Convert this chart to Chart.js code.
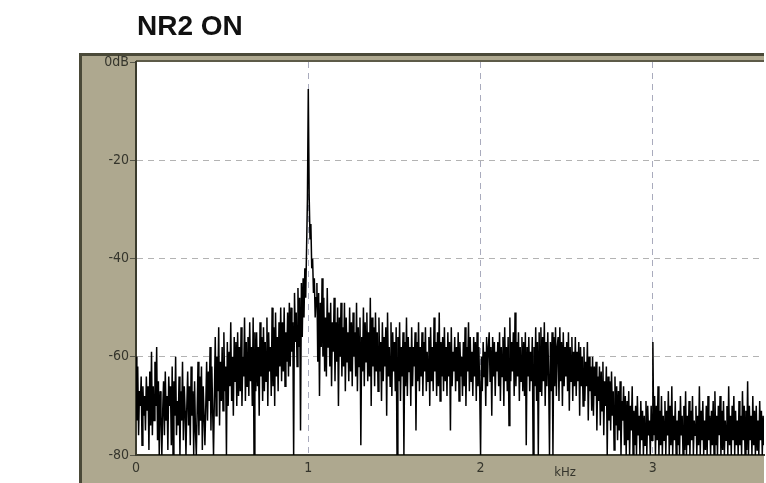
<!DOCTYPE html>
<html>
<head>
<meta charset="utf-8">
<script src="https://cdn.jsdelivr.net/npm/chart.js@4"></script>
<style>
  html, body { margin: 0; padding: 0; background: #fff; }
  #wrap { position: relative; width: 766px; height: 483px; overflow: hidden; }
  canvas { position: absolute; left: 0; top: 0; }
  #title {
    position: absolute; left: 137px; top: 10px;
    font: bold 28px/32px "Liberation Sans", Arial, sans-serif;
    color: #111; white-space: nowrap;
  }
</style>
</head>
<body>
<div id="wrap">
  <canvas id="spectrum" width="766" height="483"></canvas>
  <div id="title">NR2 ON</div>
</div>
<script>
// Spectrum analyser trace: level in dB, one value every 5 Hz starting at 0 Hz
// (each row below covers 50 Hz).
const freqStepKHz = 0.005;
const levelDb = [
  -60,-73,-62,-76,-67,-70,-64,-78,-66,-72,   // 0.00 kHz
  -68,-75,-64,-71,-66,-79,-63,-74,-59,-76,
  -66,-73,-61,-70,-58,-77,-65,-80,-67,-72,
  -80,-71,-65,-76,-63,-73,-68,-79,-64,-70,
  -66,-78,-62,-80,-65,-72,-60,-76,-69,-74,   // 0.20 kHz
  -64,-80,-67,-73,-61,-77,-66,-71,-80,-70,
  -63,-74,-66,-78,-62,-72,-67,-80,-65,-75,
  -80,-71,-61,-76,-64,-73,-62,-79,-66,-72,
  -78,-70,-61,-73,-63,-69,-58,-75,-62,-71,   // 0.40 kHz
  -80,-68,-56,-72,-60,-67,-54,-74,-61,-69,
  -58,-71,-55,-67,-62,-80,-57,-70,-59,-66,
  -53,-69,-60,-72,-56,-65,-57,-70,-55,-68,
  -58,-67,-54,-70,-60,-64,-52,-69,-57,-66,   // 0.60 kHz
  -56,-68,-53,-65,-58,-70,-52,-80,-55,-67,
  -55,-66,-58,-72,-53,-64,-56,-69,-54,-67,
  -57,-65,-52,-70,-55,-63,-58,-68,-50,-66,
  -54,-70,-51,-64,-56,-67,-53,-62,-50,-65,   // 0.80 kHz
  -53,-63,-50,-66,-55,-61,-51,-64,-49,-62,
  -50,-59,-53,-80,-47,-57,-51,-62,-46,-58,
  -48,-75,-45,-56,-44,-52,-42,-48,-38,-28,
  -5.5,-27,-36,-33,-42,-40,-47,-44,-52,-48,  // 1.00 kHz tone
  -45,-61,-47,-68,-49,-58,-44,-60,-48,-63,
  -52,-64,-46,-58,-51,-62,-49,-66,-53,-59,
  -48,-65,-53,-61,-50,-70,-52,-60,-49,-64,
  -54,-62,-49,-67,-52,-61,-55,-65,-50,-63,   // 1.20 kHz
  -53,-66,-51,-60,-55,-64,-49,-67,-54,-62,
  -52,-78,-56,-63,-50,-66,-53,-61,-51,-65,
  -55,-64,-48,-70,-52,-62,-54,-66,-51,-63,
  -55,-67,-52,-63,-57,-69,-53,-65,-56,-62,   // 1.40 kHz
  -54,-72,-51,-64,-58,-66,-53,-68,-55,-63,
  -57,-67,-54,-80,-56,-65,-53,-69,-58,-64,
  -55,-80,-57,-66,-52,-68,-56,-63,-58,-70,
  -54,-66,-58,-62,-55,-75,-57,-65,-53,-67,   // 1.60 kHz
  -58,-64,-55,-68,-57,-63,-54,-67,-59,-65,
  -56,-70,-54,-65,-58,-67,-52,-63,-57,-68,
  -55,-66,-51,-69,-57,-64,-56,-67,-54,-65,
  -58,-68,-55,-64,-57,-75,-54,-66,-59,-63,   // 1.80 kHz
  -56,-67,-58,-65,-55,-69,-57,-64,-60,-68,
  -57,-66,-54,-70,-58,-63,-53,-67,-56,-65,
  -59,-68,-56,-64,-57,-69,-55,-66,-58,-67,
  -80,-60,-67,-57,-64,-59,-70,-56,-66,-58,   // 2.00 kHz
  -55,-65,-58,-72,-56,-64,-57,-68,-59,-63,
  -57,-66,-55,-69,-58,-64,-56,-70,-54,-65,
  -58,-67,-56,-74,-52,-65,-57,-63,-55,-68,
  -51,-66,-57,-64,-55,-69,-58,-65,-56,-67,   // 2.20 kHz
  -57,-68,-55,-78,-58,-64,-56,-67,-59,-65,
  -56,-80,-58,-66,-54,-69,-57,-80,-55,-67,
  -54,-68,-56,-65,-53,-70,-57,-66,-55,-64,
  -80,-57,-67,-55,-80,-56,-66,-54,-68,-58,   // 2.40 kHz
  -56,-69,-54,-65,-57,-70,-55,-66,-58,-64,
  -57,-67,-55,-71,-58,-65,-56,-69,-59,-66,
  -56,-68,-59,-65,-57,-72,-58,-66,-60,-70,
  -58,-69,-61,-66,-57,-73,-60,-67,-62,-71,   // 2.60 kHz
  -60,-72,-62,-68,-61,-75,-64,-69,-62,-74,
  -63,-71,-61,-76,-65,-70,-62,-80,-64,-73,
  -65,-75,-63,-72,-67,-79,-64,-74,-66,-77,
  -67,-75,-65,-80,-69,-73,-66,-78,-68,-80,   // 2.80 kHz
  -69,-77,-67,-80,-70,-75,-66,-80,-71,-78,
  -70,-80,-68,-76,-72,-80,-69,-77,-71,-80,
  -72,-78,-69,-80,-70,-76,-73,-80,-70,-77,
  -57,-76,-68,-80,-70,-77,-66,-80,-71,-78,   // 3.00 kHz tone
  -68,-80,-72,-77,-69,-80,-71,-76,-67,-80,
  -70,-78,-66,-80,-72,-77,-69,-80,-73,-78,
  -71,-80,-68,-76,-72,-80,-70,-79,-67,-80,
  -72,-78,-69,-80,-71,-77,-68,-80,-73,-76,   // 3.20 kHz
  -70,-80,-72,-78,-66,-80,-71,-77,-69,-80,
  -73,-79,-70,-80,-68,-77,-72,-80,-71,-78,
  -69,-80,-67,-78,-72,-80,-70,-76,-68,-80,
  -71,-79,-69,-80,-73,-77,-70,-80,-66,-78,   // 3.40 kHz
  -72,-80,-70,-77,-68,-80,-71,-78,-73,-80,
  -69,-78,-72,-80,-67,-77,-70,-80,-71,-79,
  -65,-80,-70,-77,-72,-80,-68,-78,-71,-80,
  -70,-79,-73,-80,-69,-77,-71,-80,-72,-78    // 3.60 kHz
];

const xTicksKHz = [0, 1, 2, 3];
const yTicksDb = [0, -20, -40, -60, -80];
const yTickLabels = ['0dB', '-20', '-40', '-60', '-80'];
const xAxisUnit = 'kHz';

const tracePoints = levelDb.map((v, i) => ({ x: i * freqStepKHz, y: v }));

const FRAME = '#aea88f';
const FRAME_DARK = '#4a4938';
const AXIS = '#3b3b2d';
const TEXT = '#35352c';
const FONT_FAMILY = '"DejaVu Sans Condensed", "Liberation Sans Narrow", sans-serif';
const TICK_FONT = { family: FONT_FAMILY, size: 14 };

// Instrument-style bezel behind the plot window
const bezel = {
  id: 'bezel',
  beforeDraw(chart) {
    const { ctx, chartArea: a } = chart;
    ctx.save();
    ctx.fillStyle = FRAME;
    ctx.fillRect(79, 53, a.right - 79, chart.height - 53);
    ctx.fillStyle = FRAME_DARK;
    ctx.fillRect(79, 53, a.right - 79, 3);
    ctx.fillRect(79, 53, 3, chart.height - 53);
    ctx.fillStyle = '#5d5b48';
    ctx.fillRect(a.left, a.top - 2, a.right - a.left, 2);
    ctx.fillStyle = '#ffffff';
    ctx.fillRect(a.left, a.top, a.right - a.left, a.bottom - a.top);
    ctx.restore();
  },
  afterDraw(chart) {
    const { ctx, scales } = chart;
    ctx.save();
    ctx.fillStyle = TEXT;
    ctx.font = '13px ' + FONT_FAMILY;
    ctx.textAlign = 'center';
    ctx.textBaseline = 'middle';
    ctx.fillText(xAxisUnit, scales.x.getPixelForValue(2.49), 473);
    ctx.restore();
  }
};

new Chart(document.getElementById('spectrum'), {
  type: 'line',
  data: {
    datasets: [{
      data: tracePoints,
      borderColor: '#000000',
      borderWidth: 1.5,
      pointRadius: 0,
      tension: 0,
      fill: false
    }]
  },
  options: {
    responsive: false,
    animation: false,
    devicePixelRatio: 1,
    layout: { padding: { top: 62, left: 0, right: 2, bottom: 0 } },
    plugins: { legend: { display: false }, tooltip: { enabled: false }, title: { display: false } },
    scales: {
      x: {
        type: 'linear',
        min: 0,
        max: 3.645,
        afterBuildTicks(scale) { scale.ticks = xTicksKHz.map(v => ({ value: v })); },
        afterFit(scale) { scale.height = 28; },
        ticks: { color: TEXT, font: TICK_FONT, padding: 5, maxRotation: 0, autoSkip: false,
                 callback: v => String(v) },
        grid: {
          drawTicks: false,
          color: ctx => (ctx.tick && ctx.tick.value === 0) ? 'rgba(0,0,0,0)' : '#a9abbd',
          lineWidth: 1
        },
        border: { display: true, color: AXIS, width: 2, dash: [6, 5] }
      },
      y: {
        type: 'linear',
        min: -80,
        max: 0,
        afterBuildTicks(scale) { scale.ticks = yTicksDb.map(v => ({ value: v })); },
        afterFit(scale) { scale.width = 136; },
        ticks: { color: TEXT, font: TICK_FONT, padding: 1, autoSkip: false,
                 callback: v => yTickLabels[yTicksDb.indexOf(v)] },
        grid: {
          drawTicks: true,
          tickLength: 6,
          tickColor: '#555548',
          tickBorderDash: [],
          color: ctx => (ctx.tick && (ctx.tick.value === 0 || ctx.tick.value === -80)) ? 'rgba(0,0,0,0)' : '#b3b3b3',
          lineWidth: 1
        },
        border: { display: true, color: AXIS, width: 2, dash: [6, 5] }
      }
    }
  },
  plugins: [bezel]
});
</script>
</body>
</html>
